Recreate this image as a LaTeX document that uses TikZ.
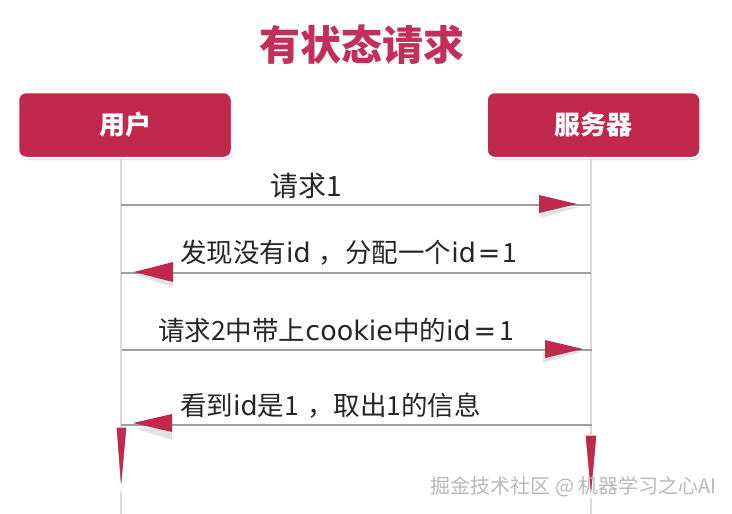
\documentclass[tikz,border=0pt]{standalone}
\usepackage{fontspec}
\setmainfont{Noto Sans CJK SC}
\newfontfamily\latf{DejaVu Sans}
\newcommand\lt[1]{{\latf\fontsize{27}{30}\selectfont #1}}
\usetikzlibrary{shadows,calc}
\definecolor{crim}{HTML}{C0294B}
\definecolor{titlec}{HTML}{C2305A}
\begin{document}
\begin{tikzpicture}[x=1pt,y=-1pt,
 actor/.style={rounded corners=8pt, fill=crim, draw=white, line width=2.5pt, minimum width=214pt, minimum height=66pt, text=white, font=\bfseries\fontsize{26}{30}\selectfont, drop shadow={opacity=0.3, shadow xshift=1pt, shadow yshift=-2pt}},
 life/.style={draw=gray!30, line width=1.6pt},
 msg/.style={draw=gray!75, line width=1.1pt},
 head/.style={fill=crim},
 hshadow/.style={fill=gray!22},
 lbl/.style={anchor=west, inner sep=0pt, text=black!85, font=\fontsize{26.5}{30}\selectfont},
 endtri/.style={fill=crim, draw=white, line width=1pt}]
\useasboundingbox (0,0) rectangle (732,514);
\fill[white] (0,0) rectangle (732,514);
\node[font=\bfseries\fontsize{41}{45}\selectfont, text=titlec] (title) at (362,45) {有状态请求};
% lifelines
\coordinate (ut) at (121,150);
\coordinate (ub) at (121,514);
\coordinate (st) at (591,150);
\coordinate (sb) at (591,514);
\draw[life] (ut) -- (ub);
\draw[life] (st) -- (sb);
\node[actor] (user) at (125,125) {用户};
\node[actor] (server) at (593.5,125) {服务器};
% messages
\coordinate (m1a) at (121,205); \coordinate (m1b) at (590,205);
\coordinate (m2a) at (591,273); \coordinate (m2b) at (121,273);
\coordinate (m3a) at (122,350); \coordinate (m3b) at (592,350);
\coordinate (m4a) at (592,425); \coordinate (m4b) at (121,425);
\draw[msg] (m1a) -- (m1b);
\draw[msg] (m2a) -- (m2b);
\draw[msg] (m3a) -- (m3b);
\draw[msg] (m4a) -- (m4b);
% heads
\fill[hshadow] ($(m1b)+(-49,3)$) -- ++(38,-1) -- ++(-38,11) -- cycle;
\fill[head] ($(m1b)+(-13,-1)$) -- ++(-38,-9) -- ++(0,18) -- cycle;
\fill[hshadow] ($(m2b)+(14,2)$) -- ++(38,0) -- ++(0,12) -- cycle;
\fill[head] ($(m2b)+(13,-1)$) -- ++(39,-10) -- ++(0,20) -- cycle;
\fill[hshadow] ($(m3b)+(-49,3)$) -- ++(38,-1) -- ++(-38,11) -- cycle;
\fill[head] ($(m3b)+(-9,-1)$) -- ++(-38,-9) -- ++(0,18) -- cycle;
\fill[hshadow] ($(m4b)+(13,3)$) -- ++(38,0) -- ++(0,12) -- cycle;
\fill[head] ($(m4b)+(12,-2)$) -- ++(39,-9) -- ++(0,18) -- cycle;
% labels
\node[lbl, font=\fontsize{28}{32}\selectfont] (l1) at (270,186) {请求1};
\node[lbl] (l2) at (180,253) {发现没有\lt{id}\hspace{8pt}，分配一个\lt{id\hspace{2pt}=\hspace{2pt}}1};
\node[lbl] (l3) at (158,330) {请求2中带上\lt{cookie}中的\lt{id\hspace{3pt}=\hspace{3pt}}1};
\node[lbl] (l4) at (180,406) {看到\lt{id}是1\hspace{8pt}，取出1的信息};
% end markers
\fill[endtri] (116,427) -- (127,427) -- (121,493) -- cycle;
\fill[endtri] (585,435) -- (597,435) -- (591,500) -- cycle;
% watermark
\node[anchor=east, inner sep=0pt, text=gray!55, font=\fontsize{20}{24}\selectfont] (wm) at (717,487) {掘金技术社区 @ 机器学习之心AI};
\end{tikzpicture}
\end{document}
